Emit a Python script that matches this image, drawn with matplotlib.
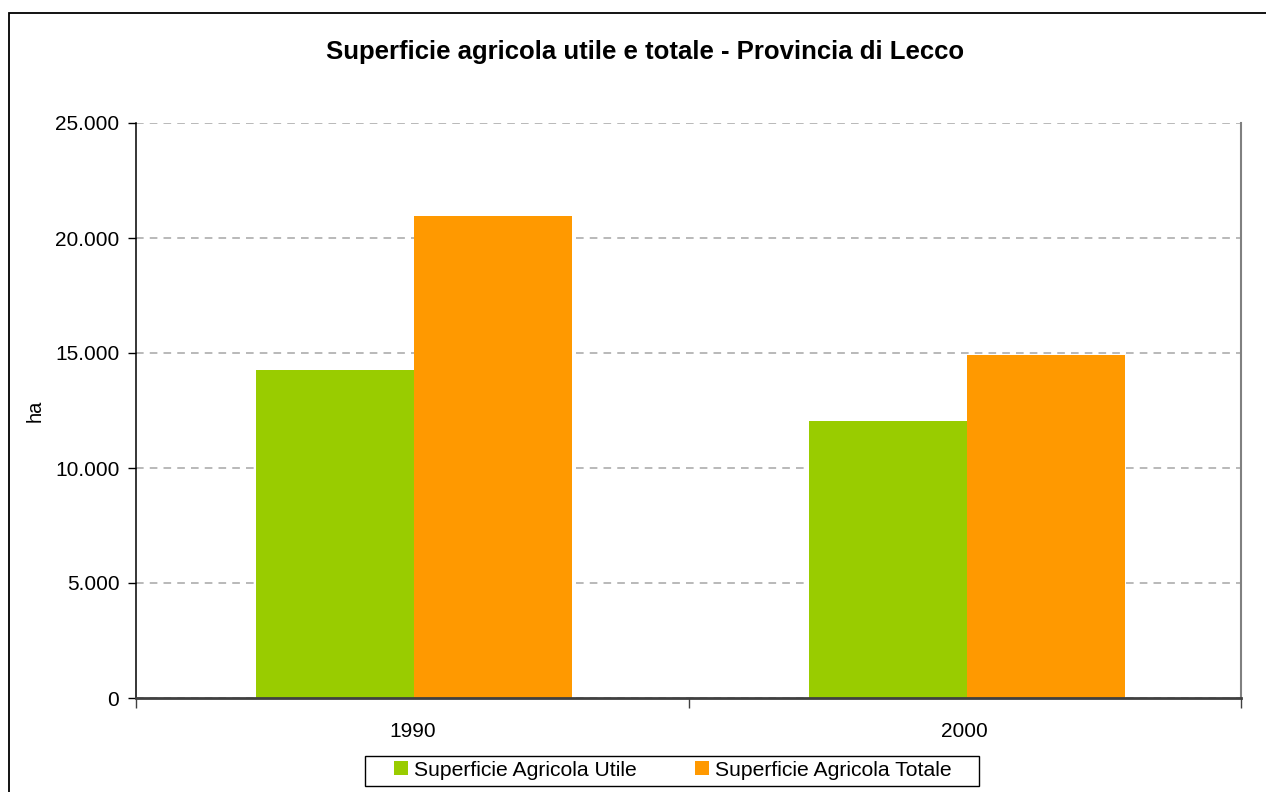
import matplotlib
matplotlib.use("Agg")
import matplotlib.pyplot as plt
from matplotlib.patches import Rectangle
from matplotlib.ticker import FuncFormatter, FixedLocator

plt.rcParams['font.family'] = ['Liberation Sans', 'DejaVu Sans']

# Data
years = ["1990", "2000"]
sau = [14260, 12040]   # Superficie Agricola Utile (ha)
sat = [20960, 14910]   # Superficie Agricola Totale (ha)
series_labels = ["Superficie Agricola Utile", "Superficie Agricola Totale"]
title = "Superficie agricola utile e totale - Provincia di Lecco"

W, H = 1266, 792
fig = plt.figure(figsize=(W / 100, H / 100), dpi=100)
fig.patch.set_facecolor("white")

# chart-area border
fig.add_artist(Rectangle((8.5 / W, -0.1), 2.0, 1.1 - 12.5 / H,
                         transform=fig.transFigure, fill=False,
                         edgecolor="black", linewidth=1.3))

ax = fig.add_axes([136 / W, (H - 698) / H, 1105 / W, 575 / H])

x = list(range(len(years)))
bw = 0.286
off = 0.004
ax.bar([i - bw / 2 + off for i in x], sau, width=bw, color="#99CC00",
       label=series_labels[0], zorder=3)
ax.bar([i + bw / 2 + off for i in x], sat, width=bw, color="#FF9900",
       label=series_labels[1], zorder=3)

ax.set_xlim(-0.5, len(years) - 0.5)
ax.set_ylim(0, 25000)

# y axis
ax.yaxis.set_major_locator(FixedLocator([0, 5000, 10000, 15000, 20000, 25000]))
ax.yaxis.set_major_formatter(FuncFormatter(lambda v, p: f"{int(v):,}".replace(",", ".")))
ax.tick_params(axis="y", direction="out", length=6, width=1, color="black",
               labelsize=15, pad=6)
ax.set_ylabel("ha", fontsize=14.5)
ax.yaxis.set_label_coords(-0.083, 0.5)

# x axis: labels at centres, tick marks at category boundaries
ax.set_xticks(x)
ax.set_xticklabels(years)
ax.tick_params(axis="x", which="major", length=0, labelsize=15, pad=17)
ax.set_xticks([-0.5, 0.5, 1.5], minor=True)
ax.tick_params(axis="x", which="minor", direction="out", length=7,
               width=1, color="#404040")

# grid
ax.yaxis.grid(True, color="#A6A6A6", linestyle=(0, (5, 4)), linewidth=1.1, zorder=0)
ax.set_axisbelow(True)

ax.spines["top"].set_visible(False)
ax.spines["left"].set_color("black")
ax.spines["left"].set_linewidth(1.1)
ax.spines["right"].set_color("#808080")
ax.spines["right"].set_linewidth(1.5)
ax.spines["bottom"].set_color("#404040")
ax.spines["bottom"].set_linewidth(2)
ax.spines["bottom"].set_zorder(4)

fig.text(645 / W, 1 - 52 / H, title, ha="center", va="center",
         fontsize=18.5, fontweight="bold")

leg = fig.legend(loc="center", bbox_to_anchor=(673 / W, 1 - 770 / H), ncol=2,
                 fontsize=15.2, frameon=False,
                 handlelength=0.68, handleheight=0.68, handletextpad=0.28,
                 columnspacing=2.75, borderpad=0.2, borderaxespad=0)

# legend box
fig.add_artist(Rectangle((364.5 / W, 1 - 785.5 / H), 614 / W, 30 / H,
                         transform=fig.transFigure, fill=False,
                         edgecolor="black", linewidth=1.0, zorder=5))

fig.savefig("out.png", dpi=100, facecolor="white")
